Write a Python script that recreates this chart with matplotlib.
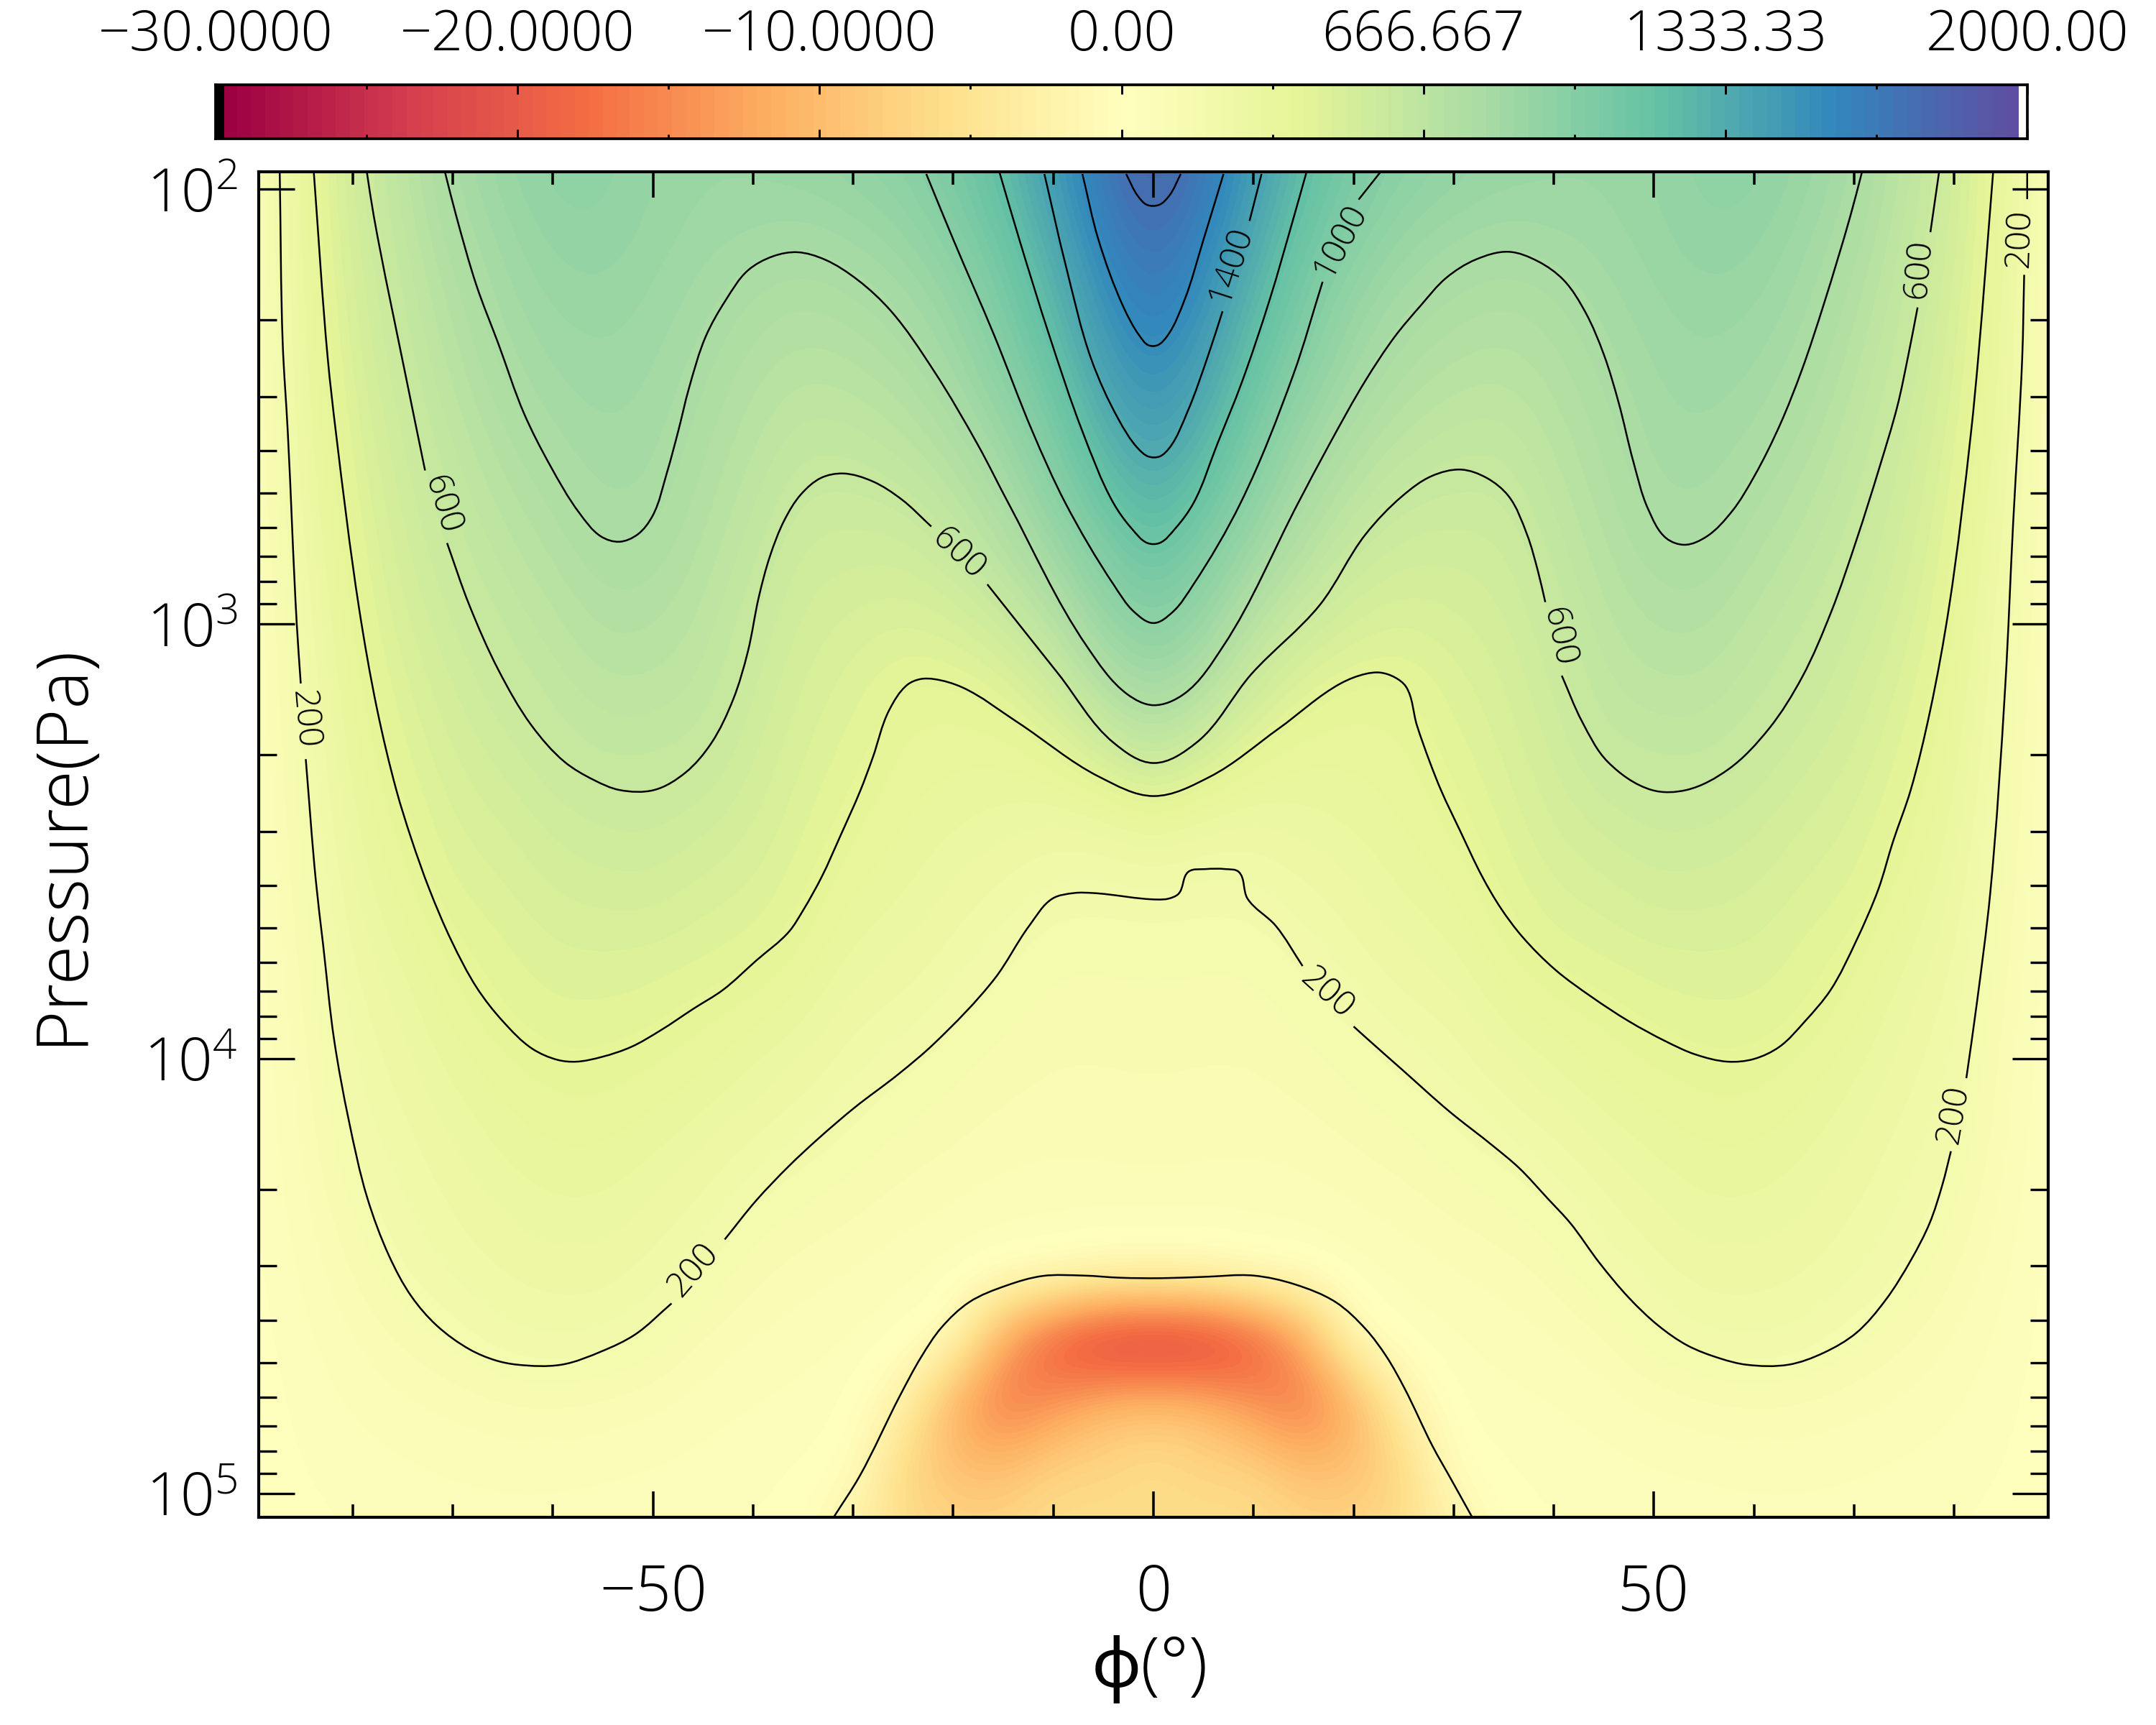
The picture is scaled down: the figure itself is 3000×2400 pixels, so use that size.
import numpy as np
import matplotlib
matplotlib.use("Agg")
import matplotlib.pyplot as plt
from matplotlib.colors import TwoSlopeNorm
from matplotlib.patches import PathPatch
from matplotlib.path import Path
from matplotlib.ticker import FixedLocator, MultipleLocator, LogLocator, NullFormatter, FuncFormatter

plt.rcParams["font.family"] = ["Open Sans", "Noto Sans", "DejaVu Sans"]
plt.rcParams["font.weight"] = "light"
plt.rcParams["mathtext.default"] = "regular"

# field nodes: latitude (deg) and log10 pressure (Pa)
LP_NODES = [1.95, 2.10, 2.25, 2.40, 2.55, 2.70, 2.85, 3.00, 3.15, 3.30, 3.45,
            3.60, 3.75, 3.90, 4.05, 4.20, 4.35, 4.50, 4.65, 4.80, 4.95, 5.10]
LAT_NODES = list(range(-90, 95, 5))

# zonal wind at each |latitude|, top of the atmosphere downwards
U_00 = [1860, 1760, 1670, 1570, 1450, 1315, 1160, 1000, 840, 630, 350, 215, 170, 145, 125, 105, 75, -1, -26, -9, -6, -6]
U_05 = [1700, 1630, 1530, 1430, 1310, 1170, 1020, 890, 730, 520, 290, 205, 165, 140, 120, 100, 75, -1, -25, -10, -7, -6]
U_10 = [1460, 1370, 1270, 1175, 1070, 965, 845, 700, 550, 385, 280, 210, 165, 140, 120, 100, 70, 0, -21, -14, -7, -6]
U_15 = [1230, 1150, 1070, 995, 890, 800, 700, 570, 430, 350, 300, 245, 200, 165, 135, 105, 75, 12, -13, -17, -9.5, -7]
U_20 = [1075, 1005, 910, 845, 770, 680, 590, 490, 395, 350, 320, 280, 240, 195, 160, 125, 90, 55, -1, -12, -9.5, -7]
U_25 = [980, 900, 825, 760, 690, 610, 535, 465, 395, 365, 345, 320, 285, 235, 185, 145, 105, 70, 40, -2.5, -7, -6]
U_30 = [930, 855, 775, 715, 650, 590, 535, 490, 450, 420, 385, 345, 305, 260, 215, 175, 130, 90, 60, 35, 2, -3]
U_35 = [900, 825, 750, 700, 640, 590, 550, 520, 495, 470, 445, 415, 375, 320, 265, 205, 150, 105, 75, 50, 30, 15]
U_40 = [885, 845, 775, 735, 700, 665, 630, 595, 565, 535, 505, 470, 425, 355, 300, 245, 180, 130, 90, 60, 40, 25]
U_45 = [880, 860, 830, 795, 765, 740, 710, 680, 650, 610, 545, 490, 445, 385, 340, 285, 240, 190, 115, 75, 50, 30]
U_50 = [910, 895, 870, 850, 830, 810, 770, 725, 680, 625, 575, 525, 465, 415, 365, 320, 275, 235, 180, 95, 60, 35]
U_55 = [955, 935, 900, 870, 845, 820, 780, 730, 680, 630, 570, 520, 470, 430, 385, 345, 305, 265, 215, 110, 65, 40]
U_60 = [960, 925, 885, 850, 815, 765, 720, 675, 635, 595, 545, 505, 465, 430, 385, 345, 305, 265, 220, 125, 70, 45]
U_65 = [900, 860, 830, 795, 750, 705, 665, 625, 590, 545, 500, 465, 430, 405, 355, 320, 285, 250, 210, 115, 70, 45]
U_70 = [815, 780, 735, 700, 665, 630, 600, 565, 530, 500, 470, 440, 395, 355, 315, 280, 250, 225, 165, 100, 65, 40]
U_75 = [680, 650, 625, 600, 570, 545, 520, 490, 460, 430, 395, 360, 320, 285, 260, 235, 215, 185, 130, 85, 55, 35]
U_80 = [540, 525, 500, 480, 455, 430, 405, 385, 360, 335, 310, 285, 260, 235, 215, 195, 160, 125, 90, 65, 45, 30]
U_85 = [340, 330, 315, 300, 285, 265, 240, 215, 195, 180, 165, 150, 135, 120, 105, 95, 80, 65, 50, 40, 30, 20]
U_90 = [60, 60, 55, 55, 50, 50, 45, 40, 40, 35, 35, 30, 30, 25, 25, 20, 20, 15, 15, 10, 10, 8]

# contour lines as (lat, log10 p); nan leaves room for the inline labels
nan = float("nan")
C0_LAT = [-31.9, -29.4, -25.3, -23.2, -21.2, -18.4, -14.7, -11.1, -7, -3.3, 0.8, 5, 10, 14.1, 18.2, 21.2, 23.3, 25.1, 27.9, 29.7, 31.8]
C0_LP = [5.053, 4.962, 4.774, 4.686, 4.619, 4.56, 4.522, 4.5, 4.499, 4.504, 4.505, 4.502, 4.499, 4.519, 4.56, 4.622, 4.686, 4.759, 4.892, 4.966, 5.053]
C200_LAT = [-87.3, -87, -86.5, -85.6, -85.2, nan, -84.7, -83.7, -82.97, -81.87, -80.4, -78.57, -76.37, -74.17, -71.61, -68.31, -65.74, -63.55, -59.15,
            -55.11, -51.82, -48.15, nan, -42.84, -39.72, -36.42, -33.49, -29.83, -25.5, -21.9, -15.9, -12.4, -10.1, -7.9, -6.1, 0.5, 1.5, 2.5, 3.5,
            5.2, 7.2, 8.5, 9.4, 12.2, 14.9, nan, 20, 21.2, 24.78, 29.54, 33.94, 36.51, 39.44, 41.64, 44.57, 47.5, 50.44, 53.37, 56.67, 59.23, 63.45,
            66.93, 70.22, 73.16, 75.72, 77.56, 78.84, 79.68, nan, 81.22, 82.25, 83.6, 85.1, 85.9, 86.8, 87, nan, 87.3, 87.3]
C200_LP = [1.961, 2.356, 2.557, 3.0, 3.137, nan, 3.311, 3.589, 3.737, 3.956, 4.142, 4.319, 4.454, 4.546, 4.614, 4.669, 4.694, 4.704, 4.704,
           4.673, 4.635, 4.563, nan, 4.416, 4.327, 4.247, 4.184, 4.112, 4.036, 3.965, 3.817, 3.694, 3.632, 3.619, 3.619, 3.634, 3.632, 3.621, 3.57,
           3.564, 3.564, 3.57, 3.632, 3.694, 3.787, nan, 3.926, 3.951, 4.024, 4.121, 4.201, 4.251, 4.323, 4.378, 4.47, 4.55, 4.614, 4.66, 4.69, 4.704, 4.704,
           4.677, 4.631, 4.555, 4.462, 4.378, 4.289, 4.213, nan, 4.045, 3.876, 3.621, 3.146, 2.767, 2.39, 2.197, nan, 2.023, 1.961]
C400_LAT = [-83.9, -82.5, -81.7, -79.38, -77.55, -75.64, -74.17, -72.34, -70.14, -67.58, -65.01, -62.08, -59.51, -57.68, -55.11, -52.18, -49.25, -45.95,
            -43.02, -39.72, -36.42, -34.96, -33.13, -31.29, -29.28, -28.07, -26.42, -24.59, -23.3, -21.91, -19.1, -13.6, -5.4, 0,
            5.6, 12.5, 18.7, 21.19, 22.66, 24.12, 25.22, 26.32, 27.6, 28.74, 30.64, 32.84, 34.68, 36.87, 40.17, 43.84, 47.5, 51.17, 54.1, 57.4, 59.96,
            62.53, 65.1, 67.66, 70.22, 72.42, 73.89, 75.65, 77.6, 79.5, 81.7, 82.4, 83.9]
C400_LP = [1.96, 2.39, 2.557, 2.963, 3.199, 3.383, 3.493, 3.611, 3.729, 3.838, 3.914, 3.977, 4.003, 4.007, 3.996, 3.973, 3.935, 3.885,
           3.842, 3.775, 3.708, 3.657, 3.581, 3.488, 3.383, 3.309, 3.199, 3.14, 3.127, 3.127, 3.146, 3.226, 3.352, 3.396,
           3.352, 3.241, 3.137, 3.115, 3.112, 3.123, 3.144, 3.233, 3.317, 3.383, 3.476, 3.581, 3.653, 3.72, 3.796, 3.859, 3.914, 3.96, 3.99, 4.007, 4.001,
           3.973, 3.914, 3.842, 3.729, 3.611, 3.501, 3.383, 3.2, 2.96, 2.557, 2.39, 1.96]
C600_LAT = [-78.6, -77.91, -74.62, -72.78, nan, -70.58, -68.39, -65.45, -62.16, -58.86, -55.92, -53.36, -49.88, -46.76, -44.2, -42, -40.53, -39.43, -38.33, -36.87,
            -35.22, -33.2, -31, -28.07, -25.14, -22.2, nan, -16.6, -9.5, -4, 0, 4.3, 9.8, 16.6, 21.19, 24.86, 27.79, 30.72, 33.28, 35.48, 37.32, 38.42, 39.15, nan,
            40.8, 42.81, 45.38, 49.78, 53.26, 57.47, 61.5, 64.8, 67.74, 70.3, 72.5, 74.33, 75.43, 76.35, nan, 77.63, 78.5]
C600_LP = [1.96, 2.061, 2.44, 2.647, nan, 2.814, 2.955, 3.106, 3.233, 3.317, 3.359, 3.382, 3.382, 3.342, 3.275, 3.174, 3.064, 2.938, 2.845, 2.761,
           2.702, 2.664, 2.654, 2.672, 2.714, 2.776, nan, 2.909, 3.115, 3.273, 3.32, 3.273, 3.115, 2.957, 2.794, 2.706, 2.66, 2.645, 2.664, 2.706, 2.794, 2.879, 2.95, nan,
           3.119, 3.224, 3.317, 3.382, 3.382, 3.334, 3.241, 3.123, 2.971, 2.803, 2.643, 2.499, 2.381, 2.272, nan, 2.099, 1.96]
C800_LAT = [-70.8, -69.67, -67.65, -65.45, -62.89, -60.32, -57.39, -55.19, -53.36, -51.53, -50.06, -48.6, -47.5, -46.4, -44.74, -42.73, -40.53, -37.97, -35.58,
            -32.83, -29.54, -26.24, -21.91, -17.5, -14.5, -6.7, -2.6, 0, 3, 7, 14.5, 17.5, 21.19, 24.12, 26.69, 29.25, 32.19, 35.48, 38.42, 40.98, 43.18, 45.01,
            46.48, 47.94, 49.41, 51.24, 53.08, 55.27, 57.84, 60.04, 62.6, 64.8, 67, 69.64, 70.8]
C800_LP = [1.96, 2.061, 2.221, 2.356, 2.516, 2.634, 2.744, 2.799, 2.811, 2.794, 2.752, 2.651, 2.558, 2.457, 2.339, 2.255, 2.187, 2.154, 2.145,
           2.162, 2.209, 2.28, 2.419, 2.59, 2.722, 3.05, 3.162, 3.187, 3.162, 3.05, 2.72, 2.59, 2.44, 2.339, 2.268, 2.204, 2.162, 2.144, 2.166, 2.209, 2.284, 2.381,
           2.491, 2.626, 2.735, 2.803, 2.818, 2.799, 2.74, 2.66, 2.542, 2.415, 2.263, 2.061, 1.96]
C1000_LAT = [-22.7, -20, -15.9, -12.1, -8.8, -4, -1.9, 0, 1.9, 4, 8.7, 14, 16.9, nan, 20.5, 22.7]
C1000_LP = [1.965, 2.116, 2.337, 2.557, 2.722, 2.909, 2.973, 2.998, 2.973, 2.909, 2.722, 2.425, 2.213, nan, 2.024, 1.96]
C1200_LAT = [-15.4, -13.4, -10.4, -7.1, -4, -2.2, -0.6, 0.6, 2.2, 4, 6.4, 8.8, 11.6, 14, 15.3]
C1200_LP = [1.96, 2.116, 2.337, 2.557, 2.722, 2.78, 2.814, 2.814, 2.78, 2.722, 2.585, 2.446, 2.255, 2.066, 1.96]
C1400_LAT = [-10.9, -8.8, -6.2, -3.5, -1.6, -0.5, 0.6, 1.6, 3.4, 5.5, 6.9, nan, 9.6, 10.8]
C1400_LP = [1.965, 2.172, 2.392, 2.529, 2.595, 2.615, 2.615, 2.595, 2.512, 2.38, 2.281, nan, 2.073, 1.965]
C1600_LAT = [-7.1, -5.5, -3, -1.4, -0.5, 0.4, 1.4, 3.1, 5, 7]
C1600_LP = [1.965, 2.116, 2.271, 2.337, 2.359, 2.359, 2.337, 2.255, 2.116, 1.965]
C1800_LAT = [-2.73, -1.58, -0.65, 0.57, 1.58, 2.73]
C1800_LP = [1.965, 2.015, 2.036, 2.036, 2.015, 1.965]

# inline contour labels: text, lat, log10 p, rotation
LABEL_TEXT = ["200", "600", "200", "600", "1400", "1000", "600", "200", "200", "600", "200"]
LABEL_LAT = [-84.9, -71.1, -45.95, -19.5, 7.7, 18.7, 76.5, 86.6, 79.94, 40.43, 17.3]
LABEL_LP = [3.22, 2.727, 4.487, 2.84, 2.173, 2.119, 2.183, 2.114, 4.129, 3.03, 3.85]
LABEL_ROT = [-85, -73, 49, -43, 72, 62, 85, 88, 80, -78, -42]

CBAR_VALUES = [-30, -20, -10, 0, 666.667, 1333.33, 2000]
CBAR_LABELS = ["\u221230.0000", "\u221220.0000", "\u221210.0000", "0.00", "666.667", "1333.33", "2000.00"]


def curve_path(lat, lp):
    # rounded path through the contour vertices, broken wherever a vertex is nan
    lat = np.array(lat, dtype=float)
    lp = np.array(lp, dtype=float)
    verts, codes = [], []
    breaks = np.flatnonzero(np.isnan(lat))
    for x, y in zip(np.split(lat, breaks), np.split(lp, breaks)):
        pts = np.column_stack([x[~np.isnan(x)] * 13.92, y[~np.isnan(y)] * 605.0])
        seg = np.diff(pts, axis=0)
        seglen = np.hypot(seg[:, 0], seg[:, 1])
        unit = seg / seglen[:, None]
        tang = np.vstack([unit[0], unit[:-1] + unit[1:], unit[-1]])
        tang /= np.hypot(tang[:, 0], tang[:, 1])[:, None]
        verts.append(pts[0])
        codes.append(Path.MOVETO)
        for i in range(len(seg)):
            verts += [pts[i] + tang[i] * seglen[i] / 3, pts[i + 1] - tang[i + 1] * seglen[i] / 3, pts[i + 1]]
            codes += [Path.CURVE4] * 3
    verts = np.array(verts) / [13.92, 605.0]
    verts[:, 1] = 10 ** verts[:, 1]
    return Path(verts, codes)


def main():
    u_by_lat = [U_90, U_85, U_80, U_75, U_70, U_65, U_60, U_55, U_50, U_45, U_40, U_35, U_30, U_25, U_20, U_15, U_10, U_05,
                U_00,
                U_05, U_10, U_15, U_20, U_25, U_30, U_35, U_40, U_45, U_50, U_55, U_60, U_65, U_70, U_75, U_80, U_85, U_90]
    field = np.array(u_by_lat, dtype=float).T

    norm = TwoSlopeNorm(vmin=-30, vcenter=0, vmax=2000)
    cmap = plt.get_cmap("Spectral", 128).copy()
    cmap.set_under("black")
    cmap.set_over("white")

    fig = plt.figure(figsize=(10, 8), dpi=300)
    pos = [360 / 3000, 1 - 2111 / 2400, 2490 / 3000, 1872 / 2400]

    # the shading sits on a linear log10(p) axis so the nodes stay evenly spaced
    ax_img = fig.add_axes(pos)
    dlat = (LAT_NODES[1] - LAT_NODES[0]) / 2
    dlp = (LP_NODES[1] - LP_NODES[0]) / 2
    ax_img.imshow(norm(field), cmap=cmap, vmin=0, vmax=1, aspect="auto", interpolation="bicubic",
                  interpolation_stage="data",
                  extent=(LAT_NODES[0] - dlat, LAT_NODES[-1] + dlat, LP_NODES[-1] + dlp, LP_NODES[0] - dlp))
    ax_img.set_xlim(-89.4, 89.4)
    ax_img.set_ylim(5.055, 1.96)
    ax_img.axis("off")

    ax = fig.add_axes(pos, facecolor="none")
    ax.set_yscale("log")
    ax.set_xlim(-89.4, 89.4)
    ax.set_ylim(10 ** 5.055, 10 ** 1.96)

    lines = [(C0_LAT, C0_LP), (C200_LAT, C200_LP), (C400_LAT, C400_LP), (C600_LAT, C600_LP), (C800_LAT, C800_LP),
             (C1000_LAT, C1000_LP), (C1200_LAT, C1200_LP), (C1400_LAT, C1400_LP), (C1600_LAT, C1600_LP), (C1800_LAT, C1800_LP)]
    for lat, lp in lines:
        ax.add_patch(PathPatch(curve_path(lat, lp), facecolor="none", edgecolor="black", lw=0.6))

    for text, lat, lp, rot in zip(LABEL_TEXT, LABEL_LAT, LABEL_LP, LABEL_ROT):
        ax.text(lat, 10 ** lp, text, rotation=rot, rotation_mode="anchor", ha="center", va="center", fontsize=11.5)

    ax.xaxis.set_major_locator(MultipleLocator(50))
    ax.xaxis.set_minor_locator(MultipleLocator(10))
    ax.xaxis.set_major_formatter(FuncFormatter(lambda v, p: f"{v:.0f}".replace("-", "\u2212")))
    ax.yaxis.set_major_locator(LogLocator(base=10, numticks=10))
    ax.yaxis.set_minor_locator(LogLocator(base=10, subs=range(2, 10), numticks=10))
    ax.yaxis.set_minor_formatter(NullFormatter())
    ax.yaxis.set_major_formatter(FuncFormatter(lambda v, p: r"$10^{%d}$" % round(np.log10(v))))
    ax.tick_params(axis="x", which="major", direction="in", top=True, length=8.6, width=0.85, pad=15, labelsize=21)
    ax.tick_params(axis="x", which="minor", direction="in", top=True, length=4.3, width=0.85)
    ax.tick_params(axis="y", which="major", direction="in", right=True, length=12, width=0.8, pad=7, labelsize=20)
    ax.tick_params(axis="y", which="minor", direction="in", right=True, length=6, width=0.8)
    for spine in ax.spines.values():
        spine.set_linewidth(1.0)

    fig.text(1600 / 3000, 1 - 2322 / 2400, "\u03d5(\u00b0)", ha="center", va="center", fontsize=23)
    fig.text(87 / 3000, 1 - 1174 / 2400, "Pressure(Pa)", rotation=90, ha="center", va="center", fontsize=24)

    # colour bar across the top, with the out-of-range colours at both ends
    ax_cb = fig.add_axes([300 / 3000, 1 - 193 / 2400, 2521 / 3000, 75 / 2400])
    gradient = np.linspace(-0.004, 1.004, 1024)[np.newaxis, :]
    ax_cb.imshow(gradient, cmap=cmap, vmin=0, vmax=1, aspect="auto", extent=(0, 1, 0, 1), interpolation="nearest")
    ticks = norm(np.array(CBAR_VALUES))
    ax_cb.xaxis.set_major_locator(FixedLocator(ticks))
    ax_cb.set_xticklabels(CBAR_LABELS, fontsize=18.5)
    ax_cb.xaxis.set_minor_locator(MultipleLocator(1 / 12))
    ax_cb.set_yticks([])
    ax_cb.tick_params(axis="x", which="major", direction="in", top=True, bottom=True, labeltop=True, labelbottom=False,
                      length=3.1, width=0.7, pad=7)
    ax_cb.tick_params(axis="x", which="minor", direction="in", top=True, bottom=True, length=1.5, width=0.7)
    for spine in ax_cb.spines.values():
        spine.set_linewidth(0.9)

    fig.savefig("out.png", dpi=300)
    plt.close(fig)


if __name__ == "__main__":
    main()
